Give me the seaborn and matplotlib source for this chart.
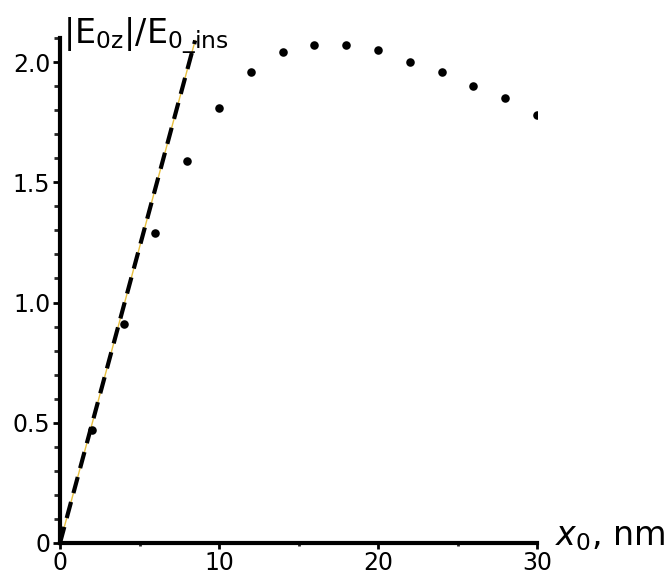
import matplotlib
matplotlib.use("Agg")
import matplotlib.pyplot as plt
from matplotlib.ticker import MultipleLocator
import seaborn as sns
import pandas as pd

# data
x0_nm = [2, 4, 6, 8, 10, 12, 14, 16, 18, 20, 22, 24, 26, 28, 30]
ratio = [0.47, 0.91, 1.29, 1.59, 1.81, 1.96, 2.04, 2.07, 2.07, 2.05,
         2.00, 1.96, 1.90, 1.85, 1.78]
line_x = [0, 8.5]
line_y = [0, 2.09]
x_ticks = [0, 10, 20, 30]
x_tick_labels = ["0", "10", "20", "30"]
y_ticks = [0, 0.5, 1.0, 1.5, 2.0]
y_tick_labels = ["0", "0.5", "1.0", "1.5", "2.0"]

sns.set_style("ticks")
plt.rcParams['font.family'] = ['DejaVu Sans']
plt.rcParams['text.color'] = 'black'

fig = plt.figure(figsize=(6.7, 5.87), dpi=100)
ax = fig.add_axes([60/670, 1 - 543/587, 477/670, 505/587])

pts = pd.DataFrame({"x": x0_nm, "y": ratio})
ln = pd.DataFrame({"x": line_x, "y": line_y})

sns.lineplot(data=ln, x="x", y="y", ax=ax, color="#e8c040", linewidth=1.0,
             zorder=2)
sns.lineplot(data=ln, x="x", y="y", ax=ax, color="black", linewidth=3.0,
             dashes=False, zorder=3)
ax.lines[-1].set_dashes([4, 2.2])
sns.scatterplot(data=pts, x="x", y="y", ax=ax, color="black", s=38,
                edgecolor="black", linewidth=0, zorder=4)

ax.set_xlim(0, 30)
ax.set_ylim(0, 2.1)
ax.set_xticks(x_ticks)
ax.set_xticklabels(x_tick_labels)
ax.set_yticks(y_ticks)
ax.set_yticklabels(y_tick_labels)
ax.xaxis.set_minor_locator(MultipleLocator(5))
ax.yaxis.set_minor_locator(MultipleLocator(0.1))

for s in ["top", "right"]:
    ax.spines[s].set_visible(False)
for s in ["left", "bottom"]:
    ax.spines[s].set_linewidth(3)
    ax.spines[s].set_color("black")

ax.tick_params(axis="both", which="major", labelsize=17, width=2,
               color="black", labelcolor="black", pad=2)
ax.tick_params(axis="y", which="major", length=5)
ax.tick_params(axis="y", which="minor", length=4, width=2)
ax.tick_params(axis="x", which="major", length=4)
ax.tick_params(axis="x", which="minor", length=2, width=2)

ax.set_xlabel("")
ax.set_ylabel("")

fig.text(63/670, 1 - 43/587,
         r"|E$_{\mathregular{0z}}$|/E$_{\mathregular{0\_ins}}$",
         fontsize=24, ha="left", va="baseline", color="black")
fig.text(555/670, 1 - 545/587, r"$x_0$, nm", fontsize=24,
         ha="left", va="baseline", color="black")

fig.savefig("out.png", dpi=100, facecolor="white")
